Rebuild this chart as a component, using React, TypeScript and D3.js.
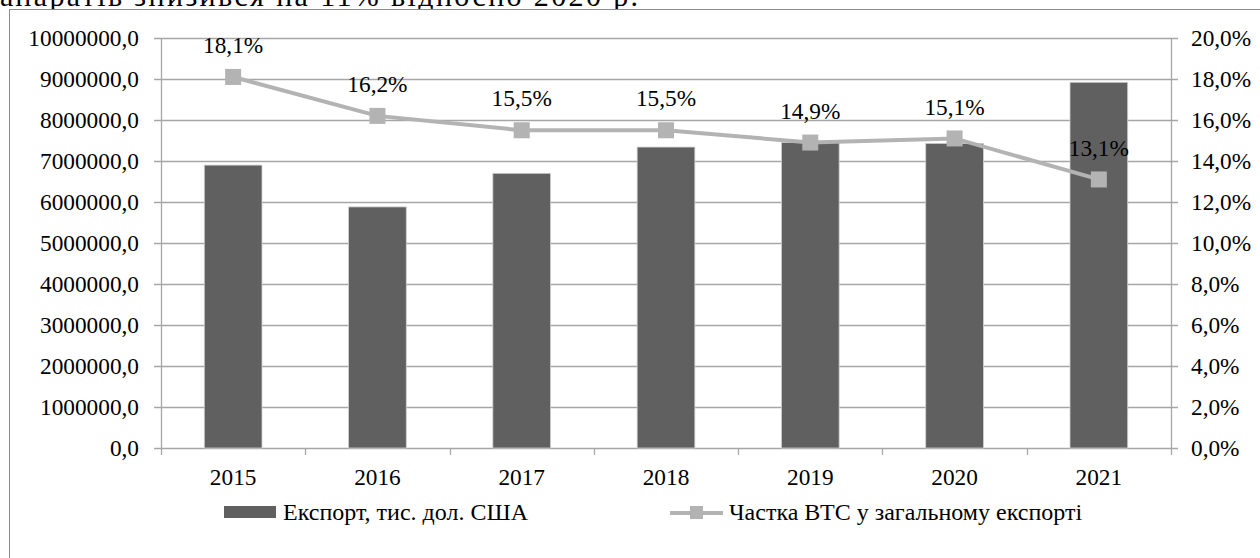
import React, { useEffect, useRef } from "react";
import * as d3 from "d3";

const years = ["2015", "2016", "2017", "2018", "2019", "2020", "2021"];
const exportValues = [6900000, 5880000, 6700000, 7340000, 7450000, 7430000, 8920000];
const shareValues = [18.1, 16.2, 15.5, 15.5, 14.9, 15.1, 13.1];
const leftTicks = [0, 1000000, 2000000, 3000000, 4000000, 5000000, 6000000, 7000000, 8000000, 9000000, 10000000];
const rightTicks = [0, 2, 4, 6, 8, 10, 12, 14, 16, 18, 20];
const barLabel = "Експорт, тис. дол. США";
const lineLabel = "Частка ВТС у загальному експорті";
const topText = "апаратів знизився на 11% відносно 2020 р.";

const fmt = (v: number, d: number) => v.toFixed(d).replace(".", ",");

const App = () => {
  const svgRef = useRef<SVGSVGElement>(null);

  useEffect(() => {
    const W = 1260;
    const H = 558;
    const m = { top: 38, left: 161, right: 1171, bottom: 448 };
    const font = "Liberation Serif, Times New Roman, serif";
    const gridColor = "#a6a6a6";
    const fs = 23.3;

    const root = d3.select(svgRef.current);
    root.selectAll("*").remove();
    const svg = root.attr("width", W).attr("height", H).attr("font-family", font);

    // text from the page above, cut off by the screenshot
    svg.append("text")
      .attr("x", 0)
      .attr("y", 6)
      .attr("font-size", 30)
      .attr("textLength", 638)
      .attr("lengthAdjust", "spacing")
      .attr("fill", "#000")
      .text(topText);

    // chart frame (runs past the visible edge)
    svg.append("rect")
      .attr("x", 9.5)
      .attr("y", 9.5)
      .attr("width", W + 20)
      .attr("height", H + 20)
      .attr("fill", "#fff")
      .attr("stroke", "#8c8c8c")
      .attr("stroke-width", 1);

    const x = d3.scaleBand().domain(years).range([m.left, m.right]).paddingInner(0.6).paddingOuter(0.3);
    const xBand = d3.scaleBand().domain(years).range([m.left, m.right]);
    const yL = d3.scaleLinear().domain([0, 10000000]).range([m.bottom, m.top]);
    const yR = d3.scaleLinear().domain([0, 20]).range([m.bottom, m.top]);

    // gridlines
    svg.append("g")
      .selectAll("line")
      .data(leftTicks)
      .join("line")
      .attr("x1", m.left - 7)
      .attr("x2", m.right + 7)
      .attr("y1", (d) => Math.round(yL(d)) + 0.5)
      .attr("y2", (d) => Math.round(yL(d)) + 0.5)
      .attr("stroke", gridColor)
      .attr("stroke-width", 1.3);

    // vertical axes
    [m.left, m.right].forEach((xx) => {
      svg.append("line")
        .attr("x1", xx + 0.5)
        .attr("x2", xx + 0.5)
        .attr("y1", m.top)
        .attr("y2", m.bottom)
        .attr("stroke", gridColor)
        .attr("stroke-width", 1.3);
    });

    // category ticks
    const bounds = years.map((y) => xBand(y) as number).concat([m.right]);
    svg.append("g")
      .selectAll("line")
      .data(bounds)
      .join("line")
      .attr("x1", (d) => Math.round(d) + 0.5)
      .attr("x2", (d) => Math.round(d) + 0.5)
      .attr("y1", m.bottom)
      .attr("y2", m.bottom + 7)
      .attr("stroke", gridColor)
      .attr("stroke-width", 1.3);

    const label = (sel: any, size = fs) =>
      sel.attr("font-size", size).attr("font-family", font).attr("fill", "#000");

    // left labels
    svg.append("g")
      .selectAll("text")
      .data(leftTicks)
      .join("text")
      .attr("x", 139)
      .attr("y", (d) => yL(d))
      .attr("dy", "0.35em")
      .attr("text-anchor", "end")
      .call(label)
      .text((d) => fmt(d, 1));

    // right labels
    svg.append("g")
      .selectAll("text")
      .data(rightTicks)
      .join("text")
      .attr("x", 1191)
      .attr("y", (d) => yR(d))
      .attr("dy", "0.35em")
      .call(label)
      .text((d) => fmt(d, 1) + "%");

    // category labels
    svg.append("g")
      .selectAll("text")
      .data(years)
      .join("text")
      .attr("x", (d) => (xBand(d) as number) + xBand.bandwidth() / 2)
      .attr("y", 477)
      .attr("dy", "0.35em")
      .attr("text-anchor", "middle")
      .call(label)
      .text((d) => d);

    // bars
    svg.append("g")
      .selectAll("rect")
      .data(exportValues)
      .join("rect")
      .attr("x", (_, i) => x(years[i]) as number)
      .attr("y", (d) => yL(d))
      .attr("width", x.bandwidth())
      .attr("height", (d) => m.bottom - yL(d))
      .attr("fill", "#606060")
      .attr("stroke", "#d0d0d0")
      .attr("stroke-width", 0.8);

    const cx = (i: number) => (xBand(years[i]) as number) + xBand.bandwidth() / 2;

    // line
    const line = d3.line<number>()
      .x((_, i) => cx(i))
      .y((d) => yR(d));
    svg.append("path")
      .datum(shareValues)
      .attr("d", line)
      .attr("fill", "none")
      .attr("stroke", "#b3b3b3")
      .attr("stroke-width", 4);

    svg.append("g")
      .selectAll("rect")
      .data(shareValues)
      .join("rect")
      .attr("x", (_, i) => cx(i) - 8)
      .attr("y", (d) => yR(d) - 8)
      .attr("width", 16)
      .attr("height", 16)
      .attr("fill", "#b3b3b3");

    svg.append("g")
      .selectAll("text")
      .data(shareValues)
      .join("text")
      .attr("x", (_, i) => cx(i))
      .attr("y", (d) => yR(d) - 32)
      .attr("dy", "0.35em")
      .attr("text-anchor", "middle")
      .call(label)
      .text((d) => fmt(d, 1) + "%");

    // legend
    const lg = svg.append("g");
    lg.append("rect")
      .attr("x", 224)
      .attr("y", 506)
      .attr("width", 52)
      .attr("height", 12)
      .attr("fill", "#606060");
    lg.append("text")
      .attr("x", 283)
      .attr("y", 512)
      .attr("dy", "0.35em")
      .call(label, 24)
      .text(barLabel);

    lg.append("line")
      .attr("x1", 670)
      .attr("x2", 723)
      .attr("y1", 513)
      .attr("y2", 513)
      .attr("stroke", "#b3b3b3")
      .attr("stroke-width", 4);
    lg.append("rect")
      .attr("x", 690)
      .attr("y", 506)
      .attr("width", 13)
      .attr("height", 13)
      .attr("fill", "#b3b3b3");
    lg.append("text")
      .attr("x", 729)
      .attr("y", 512)
      .attr("dy", "0.35em")
      .call(label, 24)
      .text(lineLabel);
  }, []);

  return <svg ref={svgRef} style={{ position: "absolute", left: 0, top: 0 }}></svg>;
};

export default App;
